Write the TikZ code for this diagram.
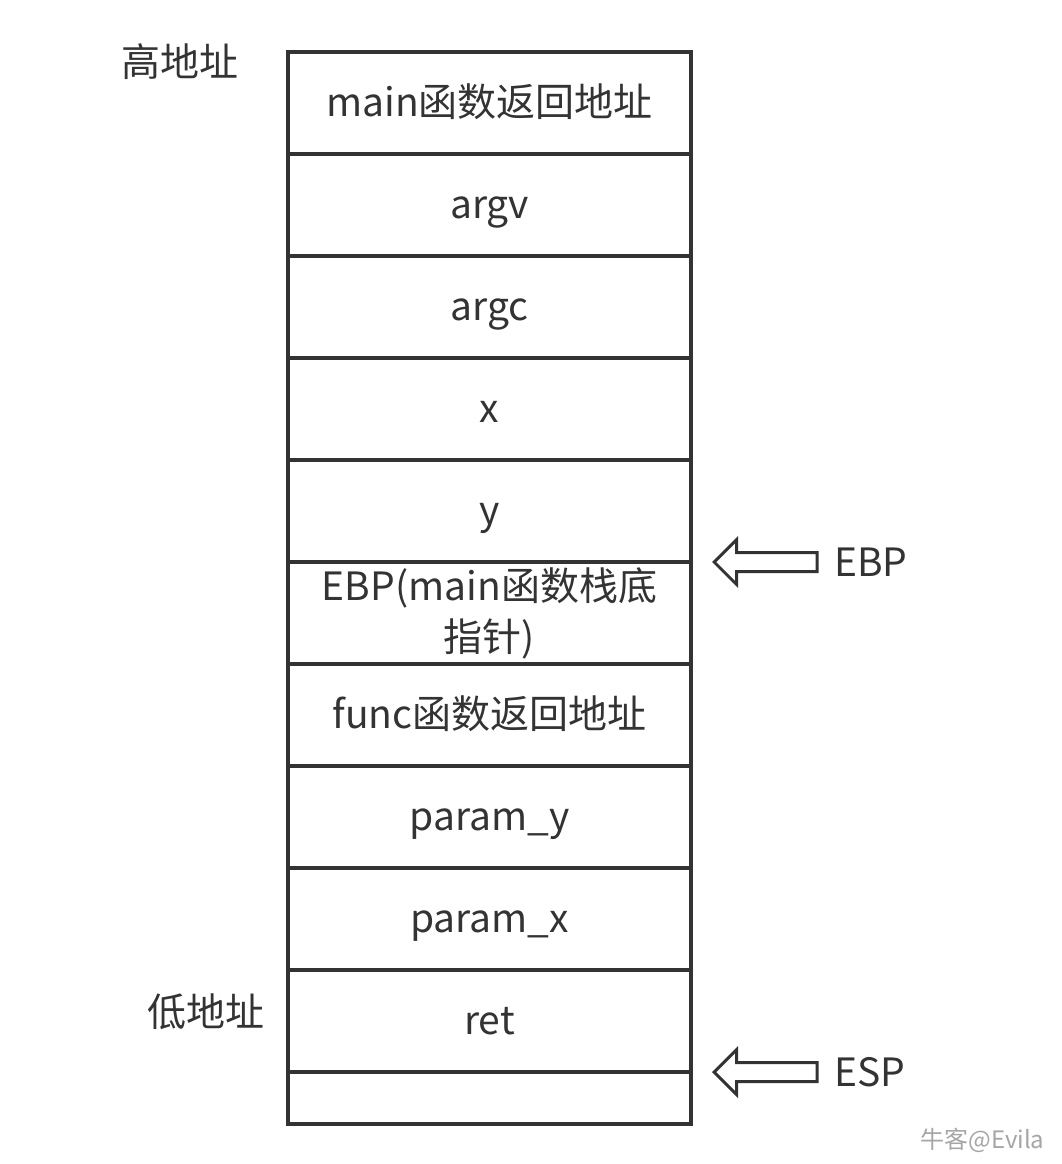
\documentclass[tikz,border=0pt]{standalone}
\usepackage{fontspec}
\setmainfont{Noto Sans CJK SC}
\usetikzlibrary{shapes.arrows, positioning}
\definecolor{ink}{HTML}{333333}

\begin{document}
\begin{tikzpicture}[
  x=1pt, y=1pt,
  node distance=0pt,
  slot/.style={rectangle, draw=ink, line width=3.5pt, minimum width=403pt, minimum height=102pt, outer sep=0pt, align=center, text=ink, text height=31pt, text depth=5pt, font=\fontsize{39}{51}\selectfont},
  ptr/.style={single arrow, draw=ink, line width=3pt, shape border rotate=180, minimum height=103pt, minimum width=42pt, inner sep=8pt, single arrow head extend=13pt},
  tag/.style={text=ink, font=\fontsize{39}{44}\selectfont}
]
\useasboundingbox (0,0) rectangle (1062,-1164);

\node (mainret) [slot] at (489.5,-103) {main函数返回地址};
\node (argv) [slot, below=of mainret] {argv};
\node (argc) [slot, below=of argv] {argc};
\node (varx) [slot, below=of argc] {x};
\node (vary) [slot, below=of varx] {y};
\node (oldebp) [slot, below=of vary, text height=, text depth=] {EBP(main函数栈底\\指针)};
\node (funcret) [slot, below=of oldebp] {func函数返回地址};
\node (paramy) [slot, below=of funcret] {param\_y};
\node (paramx) [slot, below=of paramy] {param\_x};
\node (ret) [slot, below=of paramx] {ret};
\node (free) [slot, below=of ret, minimum height=52pt] {};

\node (high) [tag] at (180,-62) {高地址};
\node (low) [tag] at (206,-1012) {低地址};

\node (ebpptr) [ptr, anchor=tip] at ([xshift=21pt]oldebp.north east) {};
\node (ebp) [tag, right=12pt of ebpptr.tail] {EBP};
\node (espptr) [ptr, anchor=tip] at ([xshift=21pt]free.north east) {};
\node (esp) [tag, right=12pt of espptr.tail] {ESP};

\node (mark) [text=gray!70, font=\fontsize{24}{28}\selectfont, anchor=east] at (1048,-1140) {牛客@Evila};

\end{tikzpicture}
\end{document}
